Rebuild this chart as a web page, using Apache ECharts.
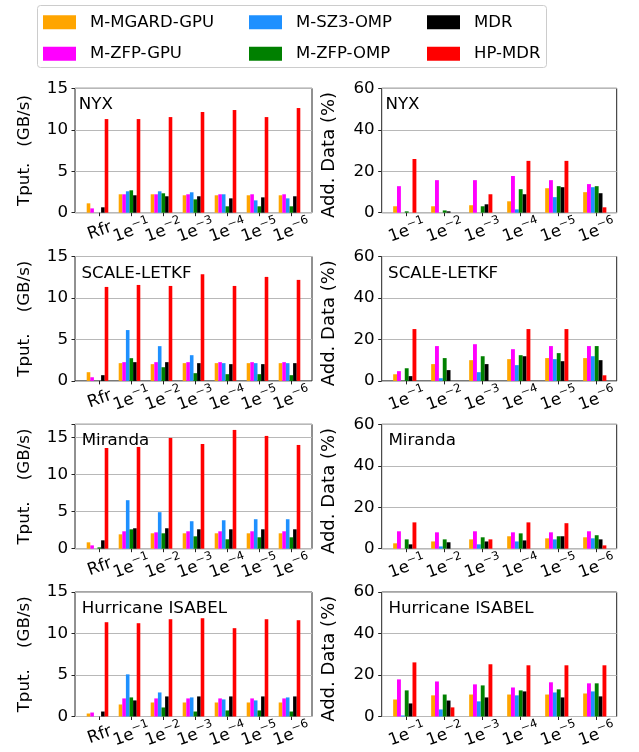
<!DOCTYPE html>
<html>
<head>
<meta charset="utf-8">
<script src="https://cdn.jsdelivr.net/npm/echarts@6/dist/echarts.min.js"></script>
<style>
  html, body { margin: 0; padding: 0; background: #fff; }
  #chart { width: 639px; height: 752px; }
</style>
</head>
<body>
<div id="chart"></div>
<script>
// Methods compared in every panel (bar order within a group)
const methods = ['M-MGARD-GPU', 'M-ZFP-GPU', 'M-SZ3-OMP', 'M-ZFP-OMP', 'MDR', 'HP-MDR'];
const methodColors = ['#FFA500', '#FF00FF', '#1E90FF', '#008000', '#000000', '#FF0000'];

// Category labels
const tputCategories = ['Rfr', '1e-1', '1e-2', '1e-3', '1e-4', '1e-5', '1e-6'];
const addCategories = ['1e-1', '1e-2', '1e-3', '1e-4', '1e-5', '1e-6'];

// Dataset names (one row of panels each)
const datasets = ['NYX', 'SCALE-LETKF', 'Miranda', 'Hurricane ISABEL'];

// Throughput (GB/s): one row per method, one column per category
const nyxTput = [
  [1.13, 2.22, 2.22, 2.10, 2.10, 2.10, 2.10],
  [0.52, 2.22, 2.22, 2.22, 2.22, 2.22, 2.22],
  [0, 2.58, 2.58, 2.46, 2.22, 1.49, 1.73],
  [0, 2.70, 2.34, 1.61, 0.77, 0.77, 0.77],
  [0.65, 2.10, 1.98, 1.98, 1.73, 1.85, 1.98],
  [11.29, 11.29, 11.53, 12.14, 12.38, 11.53, 12.62]
];
const scaleTput = [
  [1.05, 2.14, 2.02, 2.14, 2.14, 2.14, 2.14],
  [0.44, 2.26, 2.26, 2.26, 2.26, 2.26, 2.26],
  [0, 6.13, 4.19, 3.10, 2.14, 2.14, 2.14],
  [0, 2.74, 1.65, 0.93, 0.81, 0.81, 0.69],
  [0.69, 2.26, 2.26, 2.14, 2.02, 2.02, 2.14],
  [11.33, 11.57, 11.45, 12.86, 11.45, 12.54, 12.18]
];
const mirandaTput = [
  [0.86, 1.94, 2.08, 2.08, 2.08, 2.08, 2.08],
  [0.45, 2.35, 2.21, 2.35, 2.35, 2.35, 2.35],
  [0, 6.55, 4.93, 3.71, 3.84, 3.98, 3.98],
  [0.18, 2.62, 2.08, 1.67, 1.27, 1.54, 1.54],
  [1.13, 2.76, 2.76, 2.62, 2.62, 2.62, 2.62],
  [13.60, 13.74, 14.96, 14.14, 16.04, 15.23, 14.01]
];
const hurricaneTput = [
  [0.36, 1.45, 1.69, 1.69, 1.69, 1.69, 1.69],
  [0.48, 2.18, 2.18, 2.18, 2.18, 2.18, 2.18],
  [0, 5.08, 2.90, 2.30, 2.06, 1.94, 2.30],
  [0, 2.30, 1.09, 0.60, 0.73, 0.73, 0.60],
  [0.60, 1.94, 2.42, 2.42, 2.42, 2.42, 2.42],
  [11.37, 11.25, 11.73, 11.85, 10.65, 11.73, 11.61]
];

// Additional data retrieved (%): one row per method, one column per category
const nyxAdd = [
  [3.1, 3.1, 3.6, 5.5, 11.8, 9.9],
  [12.8, 15.7, 15.7, 17.7, 15.7, 13.8],
  [0, 0, 0, 1.6, 7.5, 12.3],
  [0.65, 1.1, 3.1, 11.35, 12.8, 12.8],
  [0, 0.65, 4.05, 8.9, 12.3, 9.4],
  [25.9, 0, 8.9, 25.0, 25.0, 2.6]
];
const scaleAdd = [
  [3.2, 8.1, 10.0, 10.5, 11.0, 11.0],
  [4.7, 16.8, 17.7, 15.3, 16.8, 16.8],
  [0, 1.3, 4.2, 7.6, 10.5, 11.9],
  [6.1, 11.0, 11.9, 12.4, 13.4, 16.8],
  [2.3, 5.2, 8.1, 11.9, 9.5, 10.0],
  [25.0, 0, 0, 25.0, 25.0, 2.7]
];
const mirandaAdd = [
  [2.6, 3.5, 4.5, 6.0, 5.0, 5.5],
  [8.4, 7.9, 8.4, 7.9, 7.9, 8.4],
  [0, 1.1, 2.1, 3.5, 4.5, 5.0],
  [4.5, 4.5, 5.5, 7.4, 6.0, 6.5],
  [2.1, 3.1, 3.5, 4.0, 6.0, 4.5],
  [12.7, 0, 4.5, 12.7, 12.3, 1.6]
];
const hurricaneAdd = [
  [8.2, 10.2, 10.6, 10.6, 10.6, 11.1],
  [17.9, 16.9, 15.5, 14.0, 16.5, 16.0],
  [0.5, 3.4, 7.3, 10.2, 11.6, 12.1],
  [12.6, 10.6, 15.0, 12.6, 13.1, 16.0],
  [6.3, 7.7, 9.2, 12.1, 9.2, 9.7],
  [26.1, 4.4, 25.2, 24.7, 24.7, 24.7]
];

// Axis ranges and titles per row
const tputMax = [15, 15, 16.8, 15];
const addMax = [60, 60, 60, 60];
const tputNames = ['Tput.   (GB/s)', 'Tput.    (GB/s)', 'Tput.    (GB/s)', 'Tput.    (GB/s)'];
const addName = 'Add. Data (%)';

const tputRows = [nyxTput, scaleTput, mirandaTput, hurricaneTput];
const addRows = [nyxAdd, scaleAdd, mirandaAdd, hurricaneAdd];

// ---- layout ----
const FONT = 'DejaVu Sans';
const FS = 16.7;
const rowTops = [88.3, 256.5, 424.3, 592.1];
const panelH = 124.4;
const titleInset = [5, 7.7, 8, 8];

const leftPanel = { frameLeft: 75, frameWidth: 237, firstTick: 99.3, step: 32, barW: 3.6,
  nameSize: FS, nameGap: 42, namePad: [0, 0, 0, 0] };
const rightPanel = { frameLeft: 381.7, frameWidth: 235, firstTick: 406.7, step: 38, barW: 3.87,
  nameSize: 18, nameGap: 43, namePad: [0, 9, 0, 0] };

function catLabel(v) {
  if (v.indexOf('1e') === 0) {
    return '{b|1e}{s|' + v.slice(2).replace('-', '\u2212') + '}';
  }
  return '{b|' + v + '}';
}

const grids = [], xAxes = [], yAxes = [], series = [], titles = [];

function addPanel(cfg, top, cats, rows, yMax, yInterval, yName, titleText, inset) {
  const n = cats.length;
  const gFrame = grids.length;
  // frame with y axis, gridlines and border
  grids.push({ left: cfg.frameLeft, top: top, width: cfg.frameWidth, height: panelH,
    show: true, borderColor: '#222', borderWidth: 1, backgroundColor: 'transparent',
    containLabel: false, outerBoundsMode: 'none' });
  xAxes.push({ gridIndex: gFrame, type: 'value', show: false, min: 0, max: 1 });
  yAxes.push({ gridIndex: gFrame, type: 'value', min: 0, max: yMax, interval: yInterval,
    name: yName, nameLocation: 'middle', nameGap: cfg.nameGap,
    nameTextStyle: { fontFamily: FONT, fontSize: cfg.nameSize, color: '#000', padding: cfg.namePad },
    axisLine: { show: false },
    axisTick: { show: true, length: 3.5, lineStyle: { color: '#222', width: 1 } },
    axisLabel: { show: true, margin: 7, fontFamily: FONT, fontSize: FS, color: '#000',
      formatter: function (v) { return (Math.abs(v % yInterval) < 1e-9) ? String(v) : ''; } },
    splitLine: { show: true, lineStyle: { color: '#b8b8b8', width: 1 } } });

  // bar area: category bands centred on each bar group
  const band = cfg.step;
  const groupShift = -cfg.barW / 2;
  const gData = grids.length;
  grids.push({ left: cfg.firstTick + groupShift - band / 2, top: top, width: band * n, height: panelH,
    show: false, containLabel: false, outerBoundsMode: 'none' });
  xAxes.push({ gridIndex: gData, type: 'category', data: cats, show: false });
  yAxes.push({ gridIndex: gData, type: 'value', min: 0, max: yMax, show: false });

  // tick marks and category labels
  const gTick = grids.length;
  grids.push({ left: cfg.firstTick - band / 2, top: top, width: band * n, height: panelH,
    show: false, containLabel: false, outerBoundsMode: 'none' });
  xAxes.push({ gridIndex: gTick, type: 'category', data: cats,
    axisLine: { show: false },
    axisTick: { show: true, alignWithLabel: true, length: 3.5, lineStyle: { color: '#222', width: 1 } },
    axisLabel: { interval: 0, rotate: 20, align: 'center', verticalAlign: 'middle', margin: 17,
      color: '#000', formatter: catLabel,
      rich: {
        b: { fontFamily: FONT, fontSize: FS, color: '#000', lineHeight: 20, verticalAlign: 'bottom' },
        s: { fontFamily: FONT, fontSize: 11.7, color: '#000', lineHeight: 12, verticalAlign: 'top' }
      } },
    splitLine: { show: false } });
  yAxes.push({ gridIndex: gTick, type: 'value', min: 0, max: yMax, show: false });

  rows.forEach(function (vals, i) {
    series.push({
      type: 'bar', name: methods[i], xAxisIndex: gData, yAxisIndex: gData,
      data: vals, barWidth: cfg.barW, barGap: '0%',
      itemStyle: { color: methodColors[i] }, silent: true
    });
  });

  titles.push({ text: titleText, left: cfg.frameLeft + inset - 1.3, top: top + 8.2, padding: 0,
    textStyle: { fontFamily: FONT, fontSize: FS, fontWeight: 'normal', color: '#000', lineHeight: 17 } });
}

datasets.forEach(function (name, r) {
  addPanel(leftPanel, rowTops[r], tputCategories, tputRows[r], tputMax[r], 5, tputNames[r], name, titleInset[r]);
  addPanel(rightPanel, rowTops[r], addCategories, addRows[r], addMax[r], 20, addName, name, titleInset[r]);
});

// legend laid out in three columns of two entries
const legendCols = [
  { names: [methods[0], methods[1]], left: 43 },
  { names: [methods[2], methods[3]], left: 249 },
  { names: [methods[4], methods[5]], left: 427 }
];
const legends = legendCols.map(function (c) {
  return {
    data: c.names, orient: 'vertical', left: c.left, top: 13.8, padding: 0,
    itemWidth: 33, itemHeight: 14, itemGap: 14.4, icon: 'rect', selectedMode: false,
    textStyle: { fontFamily: FONT, fontSize: 16.5, color: '#000', lineHeight: 14, padding: [0, 0, 0, 9] }
  };
});

const chart = echarts.init(document.getElementById('chart'), null, { renderer: 'canvas' });
chart.setOption({
  backgroundColor: '#ffffff',
  animation: false,
  title: titles,
  legend: legends,
  graphic: [{
    type: 'rect', z: -1,
    shape: { x: 37.5, y: 5.5, width: 509, height: 62, r: 3 },
    style: { fill: '#ffffff', stroke: '#cccccc', lineWidth: 1 }
  }],
  grid: grids,
  xAxis: xAxes,
  yAxis: yAxes,
  series: series
});
</script>
</body>
</html>
